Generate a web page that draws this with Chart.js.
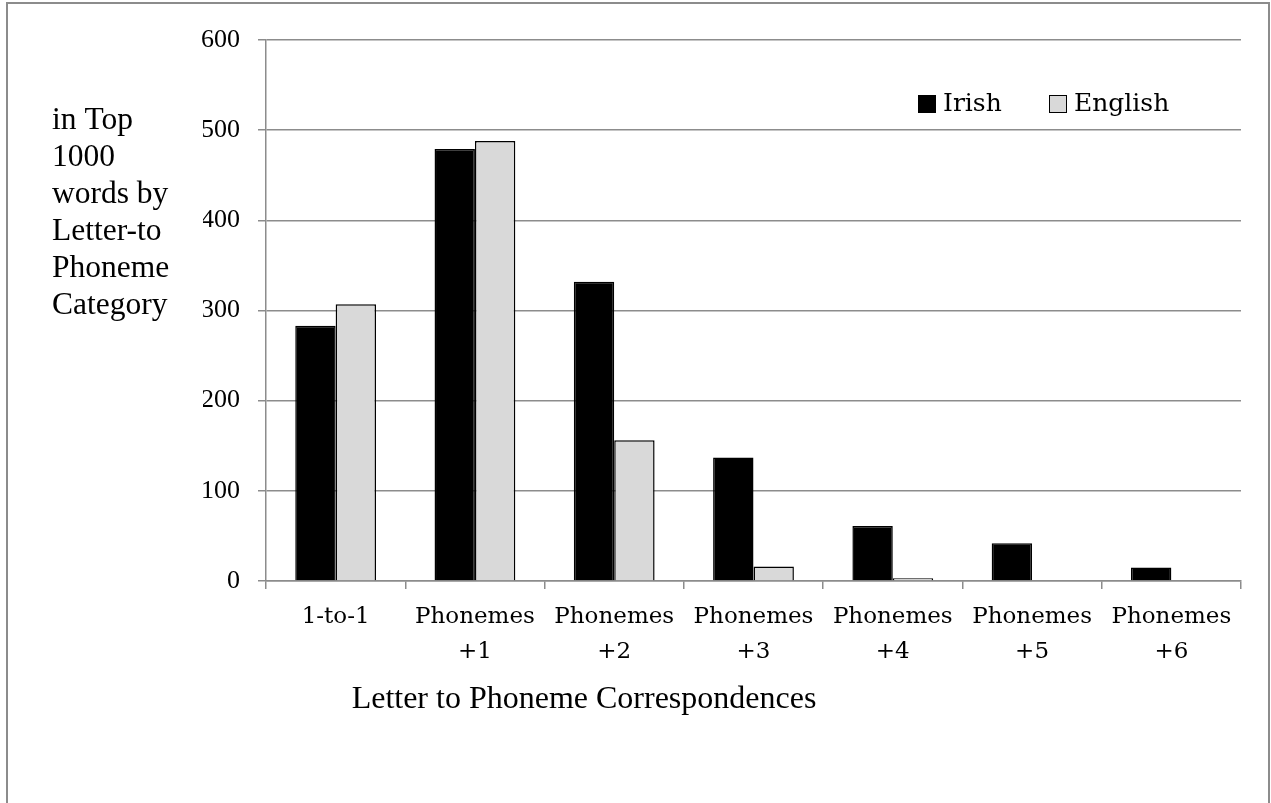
<!DOCTYPE html>
<html>
<head>
<meta charset="utf-8">
<script src="https://cdn.jsdelivr.net/npm/chart.js@4/dist/chart.umd.min.js"></script>
<style>
  html, body { margin: 0; padding: 0; background: #fff; }
  #wrap { position: relative; width: 1271px; height: 803px; }
</style>
</head>
<body>
<div id="wrap"><canvas id="chart" width="1271" height="803"></canvas></div>
<script>
// data
const categories = [['1-to-1'], ['Phonemes', '+1'], ['Phonemes', '+2'], ['Phonemes', '+3'],
  ['Phonemes', '+4'], ['Phonemes', '+5'], ['Phonemes', '+6']];
const irish = [283, 479, 332, 137, 61, 42, 15];
const english = [307, 488, 156, 16, 3, 0, 0];
const yTicks = [0, 100, 200, 300, 400, 500, 600];
const yTitle = ['in Top', '1000', 'words by', 'Letter-to', 'Phoneme', 'Category'];
const xTitle = 'Letter to Phoneme Correspondences';

const grey = '#8c8c8c';

// frame, y title (boxed, over the ticks), x title and legend
const extras = {
  id: 'extras',
  afterDraw(chart) {
    const ctx = chart.ctx;
    ctx.save();
    // outer frame
    ctx.strokeStyle = grey;
    ctx.lineWidth = 2;
    ctx.beginPath();
    ctx.moveTo(7, 803);
    ctx.lineTo(7, 3);
    ctx.lineTo(1269, 3);
    ctx.lineTo(1269, 803);
    ctx.stroke();

    // y title box covers the front of the tick labels
    ctx.fillStyle = '#fff';
    ctx.fillRect(48, 95, 155, 330);
    ctx.fillStyle = '#000';
    ctx.font = '31.5px "Liberation Serif", "Times New Roman", serif';
    ctx.textAlign = 'left';
    ctx.textBaseline = 'alphabetic';
    yTitle.forEach((line, i) => ctx.fillText(line, 52, 129 + i * 37));

    // x title
    ctx.font = '32px "Liberation Serif", "Times New Roman", serif';
    ctx.textAlign = 'center';
    ctx.fillText(xTitle, 584, 708);

    // legend
    ctx.font = '25px "DejaVu Serif", serif';
    ctx.textAlign = 'left';
    ctx.textBaseline = 'middle';
    const pos = [918, 1049];
    chart.data.datasets.forEach((ds, i) => {
      const x = pos[i];
      ctx.fillStyle = ds.backgroundColor;
      ctx.fillRect(x, 95, 18, 18);
      ctx.strokeStyle = '#000';
      ctx.lineWidth = 1;
      ctx.strokeRect(x + 0.5, 95.5, 17, 17);
      ctx.fillStyle = '#000';
      ctx.fillText(ds.label, x + 25, 104);
    });
    ctx.restore();
  }
};

new Chart(document.getElementById('chart'), {
  type: 'bar',
  data: {
    labels: categories,
    datasets: [
      { label: 'Irish', data: irish, backgroundColor: '#000000', borderColor: '#000000', borderWidth: 1.5 },
      { label: 'English', data: english, backgroundColor: '#d9d9d9', borderColor: '#000000', borderWidth: 1.5 }
    ]
  },
  options: {
    responsive: false,
    animation: false,
    layout: { padding: { left: 0, top: 40, right: 30, bottom: 0 } },
    datasets: { bar: { categoryPercentage: 0.58, barPercentage: 1.0 } },
    plugins: { legend: { display: false }, tooltip: { enabled: false } },
    scales: {
      x: {
        afterFit: (s) => { s.height = 222; },
        grid: { display: true, drawOnChartArea: false, drawTicks: true, tickLength: 8, color: grey, lineWidth: 1.5, offset: true },
        border: { color: grey, width: 1.5 },
        ticks: { color: '#000', padding: 10, maxRotation: 0, autoSkip: false,
          font: { family: '"DejaVu Serif", serif', size: 23, lineHeight: 1.55 } }
      },
      y: {
        min: 0,
        max: 600,
        afterFit: (s) => { s.width = 266; },
        afterBuildTicks: (s) => { s.ticks = yTicks.map(v => ({ value: v })); },
        grid: { color: grey, lineWidth: 1.5, tickLength: 8 },
        border: { color: grey, width: 1.5 },
        ticks: { color: '#000', padding: 18,
          font: { family: '"Liberation Serif", "Times New Roman", serif', size: 26 } }
      }
    }
  },
  plugins: [extras]
});
</script>
</body>
</html>
